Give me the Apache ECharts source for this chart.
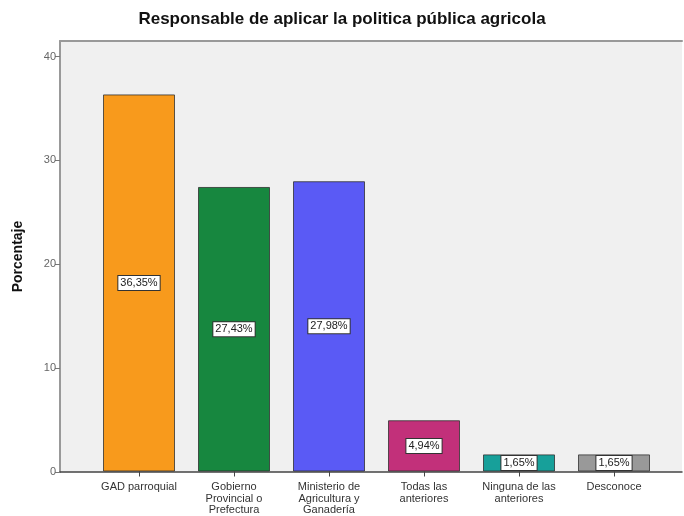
<!DOCTYPE html>
<html>
<head>
<meta charset="utf-8">
<script src="https://cdn.jsdelivr.net/npm/echarts@6/dist/echarts.min.js"></script>
<style>html,body{margin:0;padding:0;background:#fff;}#c{width:684px;height:516px;}</style>
</head>
<body>
<div id="c"></div>
<script>
var titleText = 'Responsable de aplicar la politica pública agricola';
var categories = ['GAD parroquial', 'Gobierno\nProvincial o\nPrefectura', 'Ministerio de\nAgricultura y\nGanadería', 'Todas las\nanteriores', 'Ninguna de las\nanteriores', 'Desconoce'];
var values = [36.35, 27.43, 27.98, 4.94, 1.65, 1.65];
var barColors = ['#F89A1C', '#17873F', '#5A5AF5', '#C2307A', '#17A09A', '#999999'];
var yTicks = [0, 10, 20, 30, 40];
var yMax = 41.5;
var FONT = 'Arial, "Liberation Sans", sans-serif';

var chart = echarts.init(document.getElementById('c'), null, {renderer: 'canvas'});
chart.setOption({
  animation: false,
  backgroundColor: '#ffffff',
  textStyle: {fontFamily: FONT},
  title: {
    text: titleText, left: 'center', top: 6, padding: [5, 0, 5, 14],
    textStyle: {fontSize: 17, fontWeight: 'bold', color: '#111', fontFamily: FONT}
  },
  grid: [
    {left: 60, right: 2, top: 41, bottom: 44, show: true, backgroundColor: '#F0F0F0', borderWidth: 0},
    {left: 91.5, right: 22.5, top: 41, bottom: 44}
  ],
  xAxis: [
    {type: 'value', gridIndex: 0, min: 0, max: 1, position: 'bottom',
     axisLine: {show: true, onZero: false, lineStyle: {color: '#444', width: 1.5}},
     axisTick: {show: false}, axisLabel: {show: false}, splitLine: {show: false}},
    {type: 'value', gridIndex: 0, min: 0, max: 1, position: 'top',
     axisLine: {show: true, onZero: false, lineStyle: {color: '#999', width: 2}},
     axisTick: {show: false}, axisLabel: {show: false}, splitLine: {show: false}},
    {type: 'category', gridIndex: 1, data: categories, position: 'bottom',
     axisLine: {show: false},
     axisTick: {show: true, alignWithLabel: true, length: 5, lineStyle: {color: '#444'}},
     axisLabel: {interval: 0, fontSize: 11, color: '#333', lineHeight: 11.5, margin: 10, fontFamily: FONT}}
  ],
  yAxis: [
    {type: 'value', gridIndex: 0, min: 0, max: yMax, interval: 10,
     name: 'Porcentaje', nameLocation: 'middle', nameGap: 35, nameRotate: 90,
     nameTextStyle: {fontSize: 14, fontWeight: 'bold', color: '#111', fontFamily: FONT},
     axisLine: {show: true, lineStyle: {color: '#999', width: 2}},
     axisTick: {show: true, length: 5, lineStyle: {color: '#777'}, customValues: yTicks},
     axisLabel: {fontSize: 11, color: '#666', margin: 4, customValues: yTicks},
     splitLine: {show: false}},
    {type: 'value', gridIndex: 1, min: 0, max: yMax, interval: 10, show: false}
  ],
  series: [{
    type: 'bar', xAxisIndex: 2, yAxisIndex: 1,
    barWidth: 72,
    data: values.map(function (v, i) {
      return {value: v, itemStyle: {color: barColors[i]}};
    }),
    itemStyle: {borderColor: 'rgba(40,40,40,0.75)', borderWidth: 1},
    label: {
      show: true, position: 'inside',
      formatter: function (p) { return p.value.toFixed(2).replace('.', ',') + '%'; },
      backgroundColor: '#ffffff', borderColor: '#333', borderWidth: 1,
      padding: [2, 2, 1, 2], fontSize: 11, color: '#222', fontFamily: FONT
    }
  }]
});
</script>
</body>
</html>
